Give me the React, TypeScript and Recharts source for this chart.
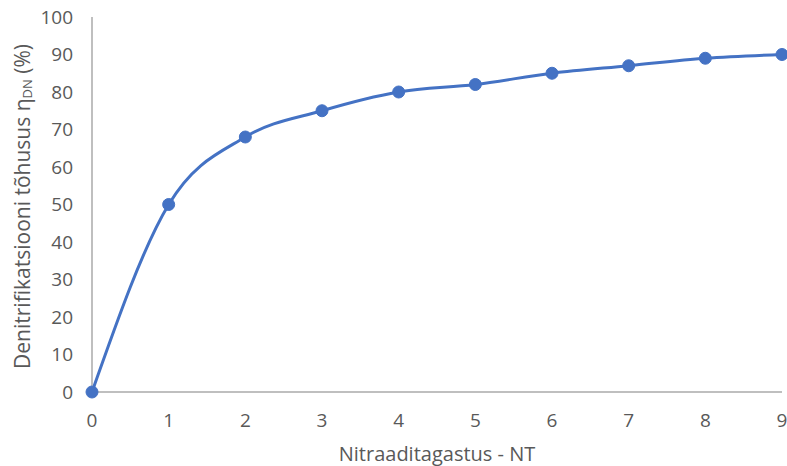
import React from 'react';
import { LineChart, Line, XAxis, YAxis } from 'recharts';

const categories = [0, 1, 2, 3, 4, 5, 6, 7, 8, 9];
const efficiency = [0, 50, 68, 75, 80, 82, 85, 87, 89, 90];
const yTicks = [0, 10, 20, 30, 40, 50, 60, 70, 80, 90, 100];

const data = categories.map((c, i) => ({ x: c, y: efficiency[i] }));

const FONT = '"Open Sans", "Noto Sans", sans-serif';
const TEXT = '#595959';
const AXIS = '#BFBFBF';
const BLUE = '#4472C4';

const YTitle = (props: any) => {
  const vb = props.viewBox || {};
  const cx = 22;
  const cy = vb.y + vb.height / 2 + 2;
  return (
    <text
      x={cx}
      y={cy}
      transform={`rotate(-90, ${cx}, ${cy})`}
      textAnchor="middle"
      dominantBaseline="central"
      fill={TEXT}
      fontSize={21}
      fontFamily={FONT}
    >
      Denitrifikatsiooni tõhusus η
      <tspan fontSize={13} dy={5}>DN</tspan>
      <tspan dy={-5}> (%)</tspan>
    </text>
  );
};

export default function App() {
  return (
    <div style={{ position: 'absolute', left: 0, top: 0, background: '#fff' }}>
      <LineChart
        width={787}
        height={466}
        data={data}
        margin={{ top: 17, right: 5, bottom: 0, left: 0 }}
      >
        <XAxis
          dataKey="x"
          type="number"
          domain={[0, 9]}
          ticks={categories}
          interval={0}
          height={74}
          tickLine={false}
          tickSize={0}
          tickMargin={22}
          axisLine={{ stroke: AXIS, strokeWidth: 2 }}
          tick={{ fill: TEXT, fontSize: 19, fontFamily: FONT }}
          label={{
            value: 'Nitraaditagastus - NT',
            position: 'insideBottom',
            offset: 5,
            fill: TEXT,
            fontSize: 20,
            fontFamily: FONT,
          }}
        />
        <YAxis
          type="number"
          domain={[0, 100]}
          ticks={yTicks}
          interval={0}
          width={92}
          tickLine={false}
          tickSize={0}
          tickMargin={19}
          axisLine={{ stroke: AXIS, strokeWidth: 2 }}
          tick={{ fill: TEXT, fontSize: 19, fontFamily: FONT }}
          label={<YTitle />}
        />
        <Line
          dataKey="y"
          type="monotone"
          stroke={BLUE}
          strokeWidth={3}
          dot={{ r: 6, fill: BLUE, stroke: BLUE, strokeWidth: 1 }}
          isAnimationActive={false}
        />
      </LineChart>
    </div>
  );
}
